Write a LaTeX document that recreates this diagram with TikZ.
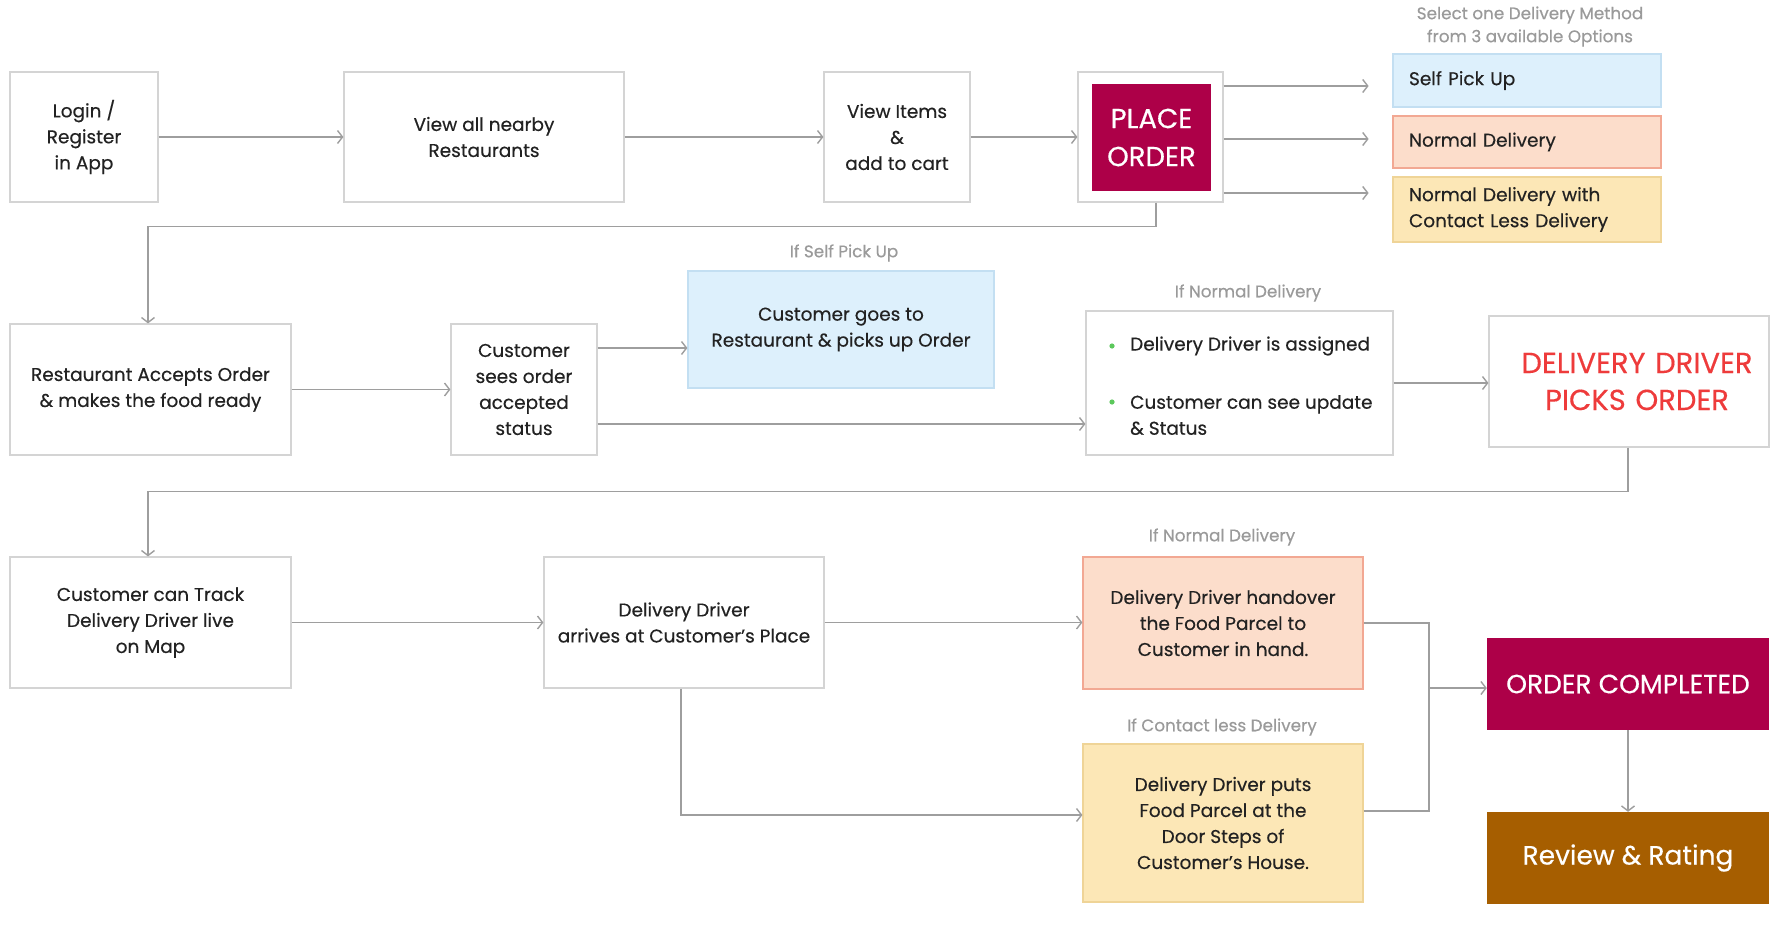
\documentclass[tikz,border=0pt]{standalone}
\usepackage{fontspec}
\setmainfont{Poppins}[FakeBold=0.35]
\usetikzlibrary{arrows.meta}
\definecolor{crimson}{HTML}{AD0048}
\definecolor{brownbox}{HTML}{A65E00}
\definecolor{blfill}{HTML}{DDF0FC}
\definecolor{bldraw}{HTML}{C3DFF2}
\definecolor{pcfill}{HTML}{FCDDCB}
\definecolor{pcdraw}{HTML}{F2A893}
\definecolor{ylfill}{HTML}{FCE7B6}
\definecolor{yldraw}{HTML}{EFD497}
\definecolor{redtext}{HTML}{EE3B3B}
\definecolor{linegray}{HTML}{9E9E9E}
\definecolor{boxgray}{HTML}{D4D4D4}
\definecolor{lblgray}{HTML}{9A9A9A}
\definecolor{textdark}{HTML}{222222}
\definecolor{bulletgreen}{HTML}{5CC85C}
\newcommand\maintext{\fontsize{18.5}{26}\selectfont}
\newcommand\lbltext{\fontsize{16.8}{23}\selectfont}
\newcommand\bigtext{\fontsize{27.5}{38}\selectfont}
\begin{document}
\begin{tikzpicture}[x=1pt,y=-1pt,
  box/.style={draw=boxgray, line width=1.2pt, fill=white, inner sep=0pt, align=center, font=\maintext, text=textdark},
  optbox/.style={line width=1.2pt, inner sep=0pt, inner xsep=16pt, align=left, font=\maintext, text=textdark, text width=236pt, minimum width=268pt},
  solid box/.style={inner sep=0pt, align=center, text=white},
  conn/.style={draw=linegray, line width=1.4pt, -{Straight Barb[length=5pt,width=13pt,line width=1.4pt]}},
  plain line/.style={draw=linegray, line width=1.4pt},
  lbl/.style={text=lblgray, font=\lbltext, inner sep=0pt, align=center},
]
\useasboundingbox[fill=white] (0,0) rectangle (1782,924);

% row 1
\node[box, minimum width=148pt, minimum height=130pt] (login) at (84,137) {Login /\\Register\\in App};
\node[box, minimum width=280pt, minimum height=130pt] (nearby) at (484,137) {View all nearby\\Restaurants};
\node[box, minimum width=146pt, minimum height=130pt] (items) at (897,137) {View Items\\\&\\add to cart};
\node[box, minimum width=145pt, minimum height=130pt] (place) at (1150.5,137) {};
\node[solid box, fill=crimson, minimum width=119pt, minimum height=107pt, font=\bigtext] (placein) at (1151.5,137.5) {PLACE\\ORDER};

\node[lbl] (selhead) at (1530,26.5) {Select one Delivery Method\\from 3 available Options};
\node[optbox, draw=bldraw, fill=blfill, minimum height=53pt] (self) at (1527,80.5) {Self Pick Up};
\node[optbox, draw=pcdraw, fill=pcfill, minimum height=52pt] (normal) at (1527,142) {Normal Delivery};
\node[optbox, draw=yldraw, fill=ylfill, minimum height=65pt] (contact) at (1527,209.5) {Normal Delivery with\\Contact Less Delivery};

% row 2
\node[box, minimum width=281pt, minimum height=131pt] (rest) at (150.5,389.5) {Restaurant Accepts Order\\\& makes the food ready};
\node[box, minimum width=146pt, minimum height=131pt] (sees) at (524,389.5) {Customer\\sees order\\accepted\\status};
\node[lbl] (lblself) at (844,253) {If Self Pick Up};
\node[box, draw=bldraw, fill=blfill, minimum width=306pt, minimum height=117pt] (goes) at (841,329.5) {Customer goes to\\Restaurant \& picks up Order};
\node[lbl] (lblnd1) at (1248,293) {If Normal Delivery};
\node[box, minimum width=307pt, minimum height=144pt] (nd) at (1239.5,383) {};
\fill[bulletgreen] (1112,346) circle (2.6pt);
\fill[bulletgreen] (1112,402) circle (2.6pt);
\node[anchor=west, inner sep=0pt, font=\maintext, text=textdark] (ndt1) at (1130,346) {Delivery Driver is assigned};
\node[anchor=west, inner sep=0pt, align=left, font=\maintext, text=textdark] (ndt2) at (1130,415) {Customer can see update\\\& Status};
\node[box, minimum width=280pt, minimum height=131pt, text=redtext, font=\fontsize{29}{37}\selectfont, text width=264pt, inner xsep=0pt] (ddpo) at (1629,381.5) {\hspace*{16pt}DELIVERY DRIVER\\\hspace*{16pt}PICKS ORDER};

% row 3
\node[box, minimum width=281pt, minimum height=131pt] (track) at (150.5,622.5) {Customer can Track\\Delivery Driver live\\on Map};
\node[box, minimum width=280pt, minimum height=131pt] (arrives) at (684,622.5) {Delivery Driver\\arrives at Customer's Place};
\node[lbl] (lblnd2) at (1222,537) {If Normal Delivery};
\node[box, draw=pcdraw, fill=pcfill, minimum width=280pt, minimum height=132pt] (ho) at (1223,623) {Delivery Driver handover\\the Food Parcel to\\Customer in hand.};
\node[lbl] (lblcl) at (1222,727) {If Contact less Delivery};
\node[box, draw=yldraw, fill=ylfill, minimum width=280pt, minimum height=158pt] (cl2) at (1223,823) {Delivery Driver puts\\Food Parcel at the\\Door Steps of\\Customer's House.};
\node[solid box, fill=crimson, minimum width=282pt, minimum height=92pt, font=\fontsize{26.5}{30}\selectfont] (oc) at (1628,684) {ORDER COMPLETED};
\node[solid box, fill=brownbox, minimum width=282pt, minimum height=92pt, font=\fontsize{26.5}{30}\selectfont] (review) at (1628,858) {Review \& Rating};

% connectors
\draw[conn] (login.east) -- (nearby.west);
\draw[conn] (nearby.east) -- (items.west);
\draw[conn] (items.east) -- (place.west);
\draw[conn] ([yshift=51pt]place.east) -- ++(145,0);
\draw[conn] ([yshift=-2pt]place.east) -- ++(145,0);
\draw[conn] ([yshift=-56pt]place.east) -- ++(145,0);
\draw[conn] ([xshift=5.5pt]place.south) -- ++(0,24) -| ([xshift=-2.5pt]rest.north);
\draw[conn] (rest.east) -- (sees.west);
\draw[conn] ([yshift=41.5pt]sees.east) -- ([yshift=41.5pt]sees.east -| goes.west);
\draw[conn] ([yshift=-34.5pt]sees.east) -- ([yshift=-34.5pt]sees.east -| nd.west);
\draw[conn] (nd.east) -- (nd.east -| ddpo.west);
\draw[conn] ([xshift=-1pt]ddpo.south) -- ++(0,44) -| ([xshift=-2.5pt]track.north);
\draw[conn] (track.east) -- (arrives.west);
\draw[conn] (arrives.east) -- (arrives.east -| ho.west);
\draw[conn] ([xshift=-3pt]arrives.south) |- ([yshift=8pt]cl2.west);
\coordinate (mj) at (1429,688);
\draw[plain line] (ho.east) -| (mj);
\draw[plain line] ([yshift=12pt]cl2.east) -| (mj);
\draw[conn] (mj) -- (mj -| oc.west);
\draw[conn] (oc.south) -- (review.north);
\end{tikzpicture}
\end{document}
